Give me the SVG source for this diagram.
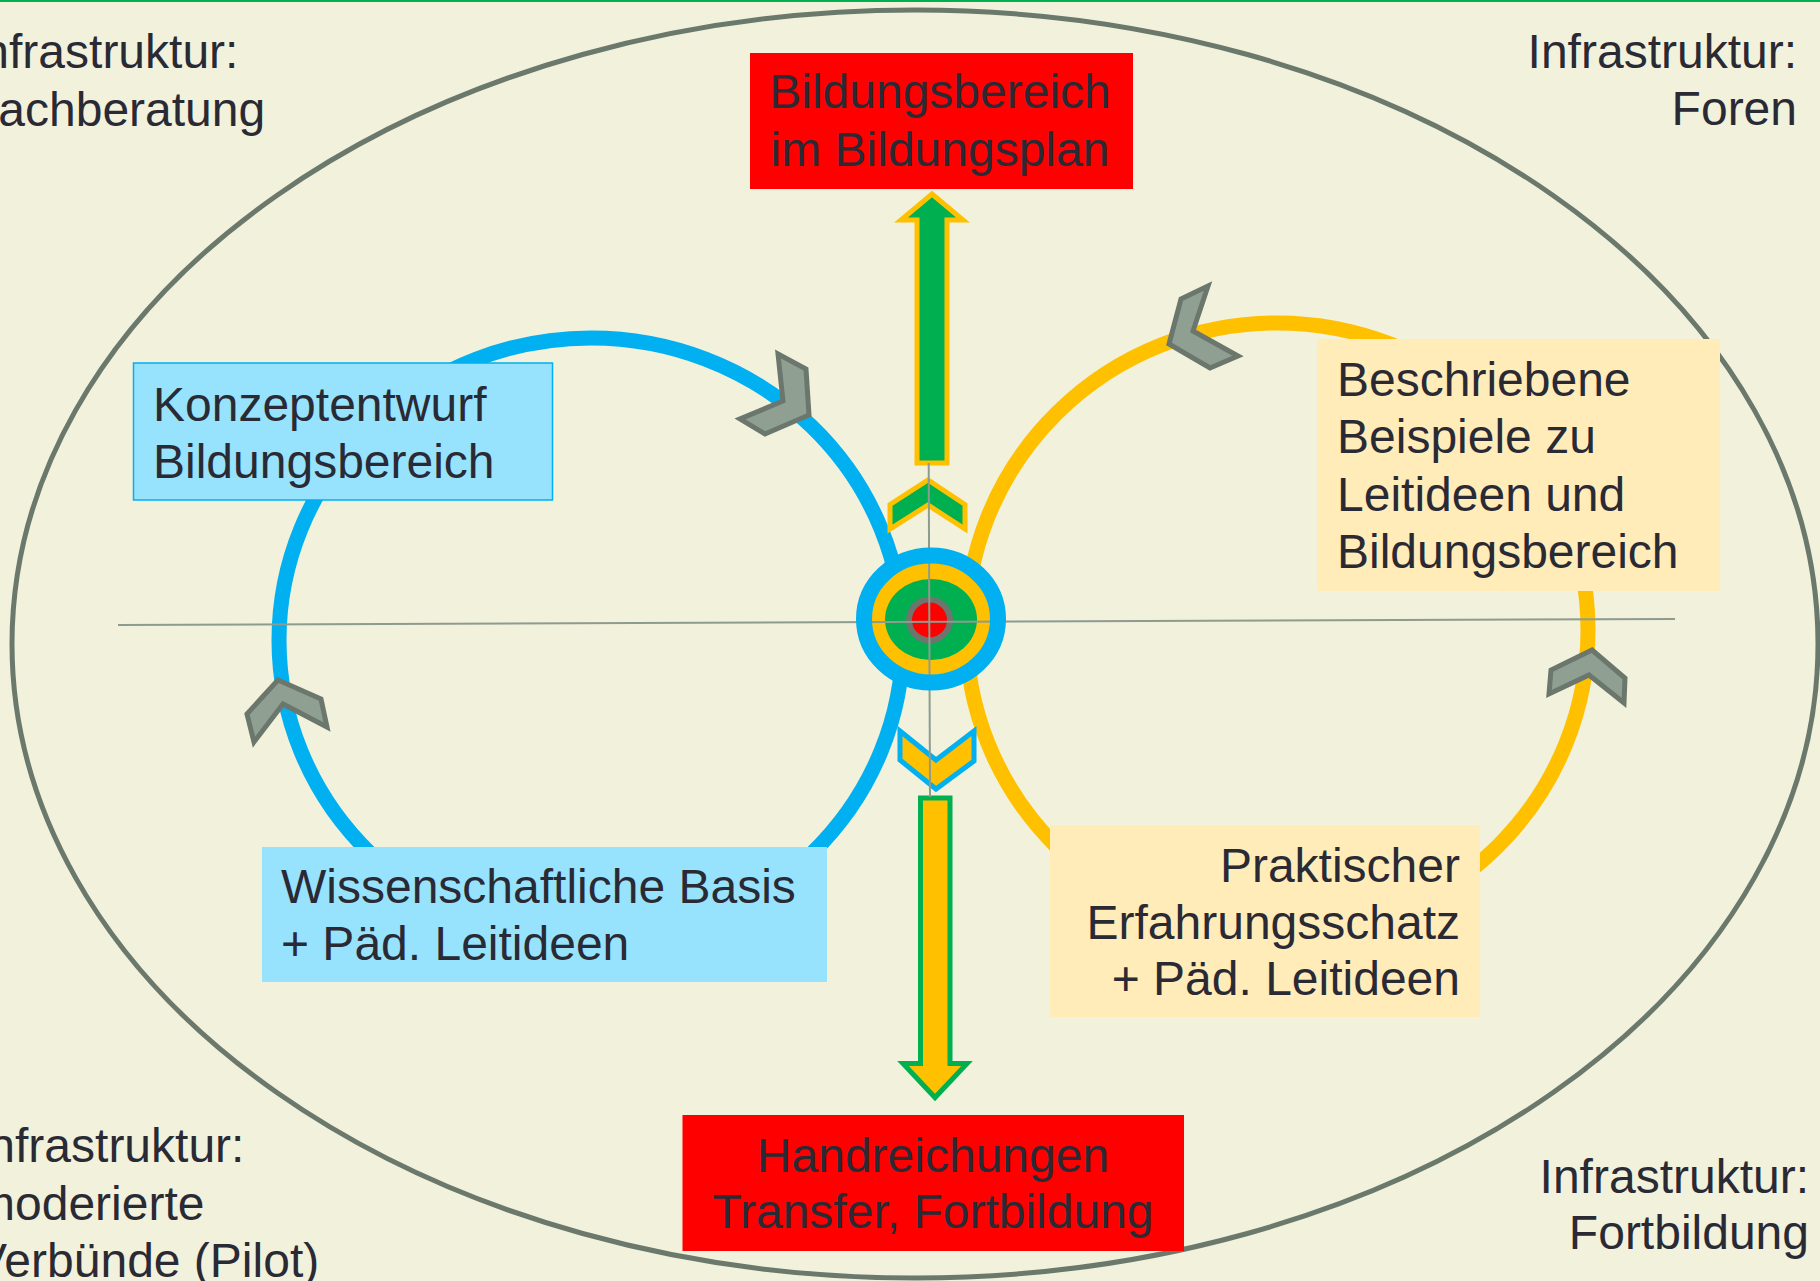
<svg xmlns="http://www.w3.org/2000/svg" width="1820" height="1281" viewBox="0 0 1820 1281">
<style>
text{font-family:"Liberation Sans",Arial,sans-serif;font-size:48px;fill:#2A2A35}
.mid{text-anchor:middle}
.end{text-anchor:end}
.chev{fill:#8FA093;stroke:#6B776D;stroke-width:5;stroke-linejoin:miter}
.ax{stroke:#8E9B8F;stroke-width:2;fill:none}
</style>
<rect width="1820" height="1281" fill="#F2F1DC"/>
<rect x="0" y="0" width="1820" height="2" fill="#00B050"/>
<g id="frame">
<ellipse cx="915" cy="644" rx="903" ry="634" fill="none" stroke="#6B786C" stroke-width="5"/>
</g>
<g id="cycles">
<ellipse id="cycle-blue" cx="591" cy="640" rx="312" ry="302" fill="none" stroke="#00B0F0" stroke-width="15"/>
<ellipse id="cycle-yellow" cx="1277" cy="630" rx="311" ry="307" fill="none" stroke="#FFC000" stroke-width="15"/>
</g>
<g id="corner-texts">
<g id="infra-fachberatung"><text x="-31" y="68">Infrastruktur:</text><text x="-31" y="126">Fachberatung</text></g>
<g id="infra-foren"><text class="end" x="1797" y="68">Infrastruktur:</text><text class="end" x="1797" y="125">Foren</text></g>
<g id="infra-verbuende"><text x="-25" y="1162">Infrastruktur:</text><text x="-25" y="1220">moderierte</text><text x="-25" y="1277">Verbünde (Pilot)</text></g>
<g id="infra-fortbildung"><text class="end" x="1809" y="1193">Infrastruktur:</text><text class="end" x="1809" y="1249">Fortbildung</text></g>
</g>
<g id="node-bildungsplan">
<rect x="750" y="53" width="383" height="136" fill="#FF0000"/>
<text class="mid" x="940" y="108">Bildungsbereich</text>
<text class="mid" x="940" y="166">im Bildungsplan</text>
</g>
<g id="node-handreichungen">
<rect x="682.5" y="1115" width="501.5" height="136" fill="#FF0000"/>
<text class="mid" x="933" y="1172">Handreichungen</text>
<text class="mid" x="933" y="1228">Transfer, Fortbildung</text>
</g>
<g id="node-konzept">
<rect x="133.5" y="363" width="419" height="137" fill="#97E3FD" stroke="#00B0F0" stroke-width="1.5"/>
<text x="153" y="421">Konzeptentwurf</text>
<text x="153" y="478">Bildungsbereich</text>
</g>
<g id="node-wissenschaft">
<rect x="262" y="847" width="565" height="135" fill="#97E3FD"/>
<text x="281" y="903">Wissenschaftliche Basis</text>
<text x="281" y="960">+ Päd. Leitideen</text>
</g>
<g id="node-beispiele">
<rect x="1317" y="339" width="403" height="252" fill="#FFECB9"/>
<text x="1337" y="396">Beschriebene</text>
<text x="1337" y="453">Beispiele zu</text>
<text x="1337" y="511">Leitideen und</text>
<text x="1337" y="568">Bildungsbereich</text>
</g>
<g id="node-praxis">
<rect x="1050" y="825" width="430" height="192" fill="#FFECB9"/>
<text class="end" x="1460" y="882">Praktischer</text>
<text class="end" x="1460" y="939">Erfahrungsschatz</text>
<text class="end" x="1460" y="995">+ Päd. Leitideen</text>
</g>
<g id="connectors">
<polygon class="chev" points="778,354 806,369 809,415 765,434 740,419 783,401"/>
<polygon class="chev" points="1208,286 1181,299 1169,344 1210,368 1238,356 1193,331"/>
<polygon class="chev" points="278,680 321,699 327,727 283,704 254,742 247,714"/>
<polygon class="chev" points="1592,650 1625,678 1624,703 1589,675 1549,694 1551,670"/>
<polygon points="932,194 963,220 947,220 947,463 917,463 917,220 901,220" fill="#00B050" stroke="#FFC000" stroke-width="5"/>
<polygon points="890,504.5 928,480 965,504.5 965,529 928,505 890,529" fill="#00B050" stroke="#FFC000" stroke-width="5"/>
<polygon points="900,731 936,760 974,731 974,761 936,789 900,760" fill="#FFC000" stroke="#00B0F0" stroke-width="5"/>
<polygon points="920.5,798 950,798 950,1063.5 967,1063.5 935,1097.5 903,1063.5 920.5,1063.5" fill="#FFC000" stroke="#00B050" stroke-width="5"/>
</g>
<g id="node-target">
<ellipse cx="931" cy="619" rx="60" ry="56" fill="#FFC000"/>
<ellipse cx="931" cy="619.5" rx="46" ry="40.5" fill="#00B050"/>
<circle cx="929.5" cy="620" r="20.5" fill="#FF0000" stroke="#6E756E" stroke-width="6"/>
<g id="axes">
<line class="ax" x1="118" y1="625" x2="1675" y2="619"/>
<line class="ax" x1="928.7" y1="463" x2="930" y2="797"/>
</g>
<ellipse cx="931" cy="619" rx="67" ry="63.5" fill="none" stroke="#00B0F0" stroke-width="16"/>
</g>
</svg>
